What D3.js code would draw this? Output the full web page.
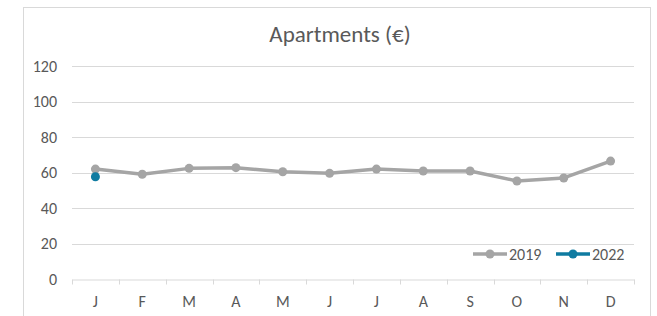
<!DOCTYPE html>
<html>
<head>
<meta charset="utf-8">
<script src="https://cdn.jsdelivr.net/npm/d3@7"></script>
<style>
  body { margin: 0; background: #fff; }
  text { font-family: Carlito, "Liberation Sans", sans-serif; fill: #595959; }
</style>
</head>
<body>
<div id="chart"></div>
<script>
var months = ["J", "F", "M", "A", "M", "J", "J", "A", "S", "O", "N", "D"];
var values2019 = [62.1, 59.2, 62.5, 62.9, 60.6, 59.7, 62.1, 61.0, 61.0, 55.4, 57.1, 66.6];
var values2022 = [57.8];
var yTicks = [0, 20, 40, 60, 80, 100, 120];
var seriesNames = ["2019", "2022"];
var seriesColors = ["#a5a5a5", "#0f7ba1"];

var width = 657, height = 316;
var margin = {top: 66.3, right: 23, bottom: 36.7, left: 72};

var svg = d3.select("#chart").append("svg")
    .attr("width", width).attr("height", height);

// chart frame
svg.append("rect")
    .attr("x", 23.5).attr("y", 7.5)
    .attr("width", 627).attr("height", 320)
    .attr("fill", "none").attr("stroke", "#d9d9d9");

var x = d3.scaleBand()
    .domain(d3.range(months.length))
    .range([margin.left, width - margin.right]);

var y = d3.scaleLinear()
    .domain([0, 120])
    .range([height - margin.bottom, margin.top]);

svg.append("text")
    .attr("x", 340).attr("y", 42)
    .attr("text-anchor", "middle")
    .attr("font-size", 23)
    .text("Apartments (€)");

// gridlines
svg.append("g").selectAll("line")
    .data(yTicks.slice(1))
    .enter().append("line")
    .attr("x1", margin.left).attr("x2", width - margin.right)
    .attr("y1", function(d) { return Math.round(y(d)) + 0.5; })
    .attr("y2", function(d) { return Math.round(y(d)) + 0.5; })
    .attr("stroke", "#d9d9d9");

// y labels
svg.append("g").selectAll("text")
    .data(yTicks)
    .enter().append("text")
    .attr("x", 57)
    .attr("y", function(d) { return y(d); })
    .attr("dy", "0.35em")
    .attr("text-anchor", "end")
    .attr("font-size", 16)
    .text(function(d) { return d; });

// x axis
var xAxis = d3.axisBottom(x).tickSize(0).tickFormat(function(i) { return months[i]; });
var gx = svg.append("g")
    .attr("transform", "translate(0," + (Math.round(y(0)) + 0.5) + ")")
    .call(xAxis);
gx.attr("font-family", null).attr("font-size", null);
gx.select(".domain").attr("stroke", "#d9d9d9");
gx.selectAll(".tick text")
    .attr("dy", 0).attr("y", 27)
    .attr("font-size", 16)
    .attr("fill", "#595959");

var bounds = d3.range(months.length + 1).map(function(i) {
    return i < months.length ? x(i) : x.range()[1];
});
gx.append("g").selectAll("line")
    .data(bounds)
    .enter().append("line")
    .attr("x1", function(d) { return Math.round(d) + 0.5; })
    .attr("x2", function(d) { return Math.round(d) + 0.5; })
    .attr("y1", 0).attr("y2", 5)
    .attr("stroke", "#d9d9d9");

var cx = function(d, i) { return x(i) + x.bandwidth() / 2; };

var line = d3.line()
    .x(function(d, i) { return x(i) + x.bandwidth() / 2; })
    .y(function(d) { return y(d); });

[values2019, values2022].forEach(function(vals, s) {
    svg.append("path")
        .datum(vals)
        .attr("d", line)
        .attr("fill", "none")
        .attr("stroke", seriesColors[s])
        .attr("stroke-width", 3.5)
        .attr("stroke-linejoin", "round");
    svg.append("g").selectAll("circle")
        .data(vals)
        .enter().append("circle")
        .attr("cx", cx)
        .attr("cy", function(d) { return y(d); })
        .attr("r", 4.5)
        .attr("fill", seriesColors[s]);
});

// legend
var legend = svg.append("g").selectAll("g")
    .data(seriesNames)
    .enter().append("g")
    .attr("transform", function(d, i) { return "translate(" + (473 + i * 83) + ",254)"; });

legend.append("line")
    .attr("x1", 0).attr("x2", 34)
    .attr("stroke", function(d, i) { return seriesColors[i]; })
    .attr("stroke-width", 3.5);
legend.append("circle")
    .attr("cx", 17).attr("r", 4.5)
    .attr("fill", function(d, i) { return seriesColors[i]; });
legend.append("text")
    .attr("x", 36).attr("dy", "0.35em")
    .attr("font-size", 16)
    .text(function(d) { return d; });
</script>
</body>
</html>
